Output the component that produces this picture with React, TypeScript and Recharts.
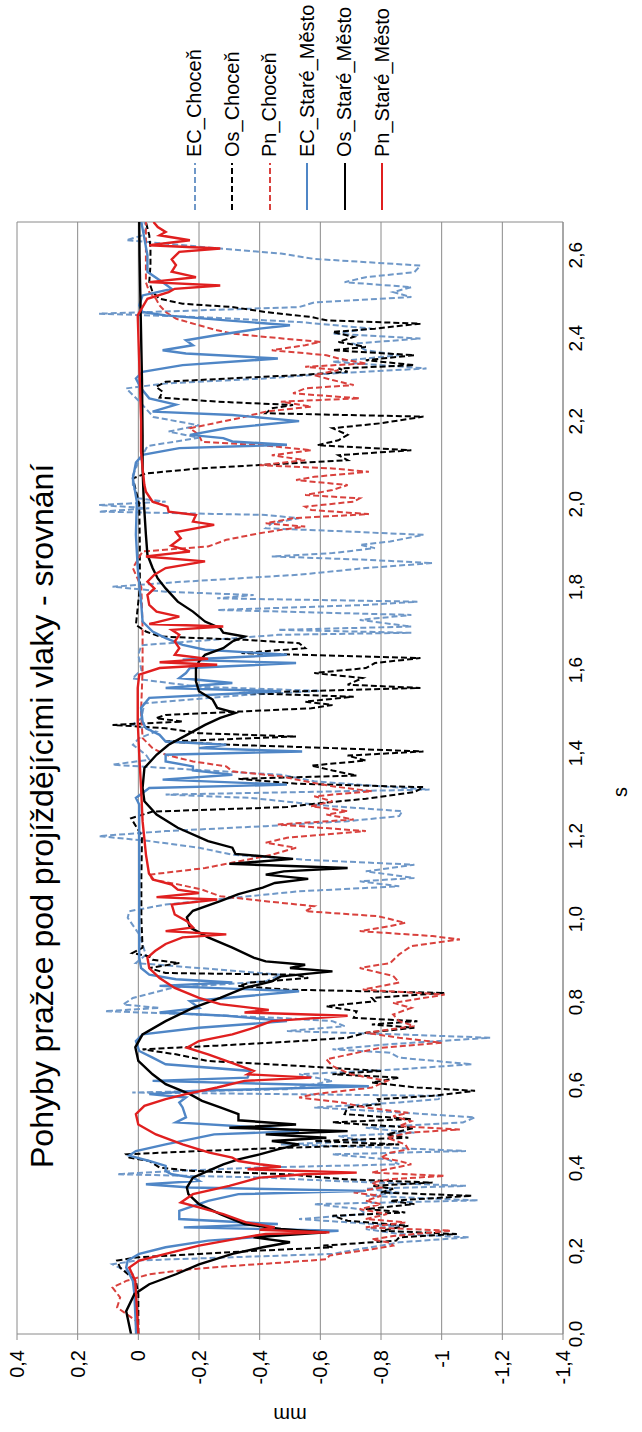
import React from "react"
import {
  LineChart,
  Line,
  XAxis,
  YAxis,
  CartesianGrid,
  Legend,
  ReferenceLine,
  Label,
} from "recharts"

// chart is drawn landscape and turned a quarter turn counter-clockwise
const FRAME_W = 1432
const FRAME_H = 642
const FONT = "'Liberation Sans', Arial, sans-serif"
const GRID = "#8a8a8a"

const title = "Pohyby pražce pod projíždějícími vlaky - srovnání"
const timeTicks = [0, 0.2, 0.4, 0.6, 0.8, 1.0, 1.2, 1.4, 1.6, 1.8, 2.0, 2.2, 2.4, 2.6]
const mmTicks = [0.4, 0.2, 0, -0.2, -0.4, -0.6, -0.8, -1, -1.2, -1.4]
const timeMax = 2.68

// [s, mm]
const ecChocen: [number, number][] = [
  [0, 0.008], [0.1, 0.008], [0.144, 0.018], [0.168, 0.085], [0.177, 0.008], [0.185, -0.31], [0.193, -0.64],
  [0.205, -0.73], [0.213, -0.8], [0.221, -0.86], [0.233, -1.09], [0.241, -0.86], [0.253, -0.75], [0.261, -0.86],
  [0.277, -0.53], [0.289, -0.75], [0.301, -0.73], [0.313, -0.58], [0.322, -1.12], [0.333, -0.75], [0.341, -0.86],
  [0.35, -0.75], [0.357, -1.08], [0.369, -0.64], [0.377, -0.42], [0.385, 0.07], [0.392, -0.09], [0.401, -0.39],
  [0.409, -0.86], [0.421, -0.82], [0.433, -0.64], [0.441, -1.08], [0.449, -0.82], [0.457, -0.47], [0.465, -0.75],
  [0.477, -0.66], [0.485, -0.91], [0.497, -0.75], [0.51, -1.07], [0.522, -1.11], [0.534, -0.86], [0.546, -0.58],
  [0.558, -0.86], [0.566, -0.99], [0.574, -1.0], [0.582, 0.02], [0.59, -0.49], [0.598, -0.55], [0.61, -0.64],
  [0.626, -0.53], [0.638, -0.86], [0.65, -1.1], [0.666, -0.86], [0.678, -0.83], [0.686, -0.64], [0.698, -0.82],
  [0.714, -1.16], [0.722, -0.86], [0.73, -0.49], [0.742, -0.68], [0.754, -0.64], [0.762, -0.46], [0.77, -0.2],
  [0.778, 0.11], [0.786, -0.07], [0.794, 0.05], [0.81, 0.018], [0.834, -0.11], [0.85, -0.42], [0.866, -0.47],
  [0.882, -0.2], [0.894, 0.008], [0.914, -0.025], [0.963, -0.003], [1.003, 0.035], [1.019, 0.03], [1.035, -0.09],
  [1.051, -0.31], [1.067, -0.53], [1.079, -0.86], [1.091, -0.73], [1.099, -0.91], [1.115, -0.75], [1.131, -0.91],
  [1.143, -0.55], [1.155, -0.31], [1.172, -0.2], [1.188, -0.036], [1.2, 0.13], [1.212, -0.09], [1.224, -0.42],
  [1.236, -0.69], [1.248, -0.86], [1.26, -0.87], [1.272, -0.64], [1.28, -0.53], [1.292, -0.37], [1.3, -0.09],
  [1.312, -0.96], [1.32, -0.8], [1.332, -0.58], [1.348, -0.47], [1.36, -0.18], [1.372, 0.085], [1.384, -0.036],
  [1.396, -0.025], [1.42, 0.018], [1.436, -0.003], [1.452, -0.058], [1.468, 0.02], [1.484, -0.01], [1.52, -0.02],
  [1.54, -0.35], [1.55, -0.6], [1.56, -0.2], [1.58, 0.02], [1.6, -0.01], [1.637, 0.0], [1.66, -0.01],
  [1.685, -0.46], [1.69, -0.9], [1.697, -0.46], [1.705, -0.9], [1.721, -0.73], [1.733, -0.9], [1.745, -0.26],
  [1.757, -0.75], [1.765, -0.92], [1.773, -0.26], [1.781, -0.38], [1.789, -0.09], [1.801, 0.085], [1.813, -0.146],
  [1.83, -0.53], [1.846, -0.75], [1.858, -0.97], [1.866, -0.75], [1.874, -0.44], [1.882, -0.64], [1.894, -0.78],
  [1.902, -0.73], [1.91, -0.83], [1.926, -0.94], [1.934, -0.69], [1.942, -0.42], [1.954, -0.44], [1.966, -0.53],
  [1.974, -0.42], [1.982, 0.13], [1.99, -0.036], [1.998, 0.13], [2.006, -0.09], [2.014, 0.0], [2.046, 0.018],
  [2.07, 0.018], [2.1, 0.0], [2.14, -0.03], [2.16, -0.2], [2.175, -0.1], [2.19, -0.2], [2.21, -0.05],
  [2.25, 0.0], [2.279, 0.04], [2.291, -0.09], [2.303, -0.42], [2.315, -0.64], [2.327, -0.95], [2.335, -0.8],
  [2.343, -0.64], [2.359, -0.86], [2.371, -0.75], [2.387, -0.71], [2.399, -0.93], [2.411, -0.64], [2.423, -0.77],
  [2.439, -0.53], [2.451, -0.2], [2.459, 0.13], [2.467, -0.2], [2.475, -0.53], [2.486, -0.58], [2.499, -0.9],
  [2.511, -0.84], [2.523, -0.9], [2.535, -0.68], [2.547, -0.75], [2.559, -0.91], [2.575, -0.93], [2.591, -0.58],
  [2.604, -0.47], [2.616, -0.27], [2.628, -0.09], [2.636, 0.04], [2.648, -0.014], [2.664, -0.025], [2.68, -0.02],
]

const osChocen: [number, number][] = [
  [0, 0.0], [0.096, 0.0], [0.128, 0.008], [0.16, 0.06], [0.177, 0.07], [0.185, 0.0], [0.193, -0.2], [0.2, -0.37],
  [0.209, -0.64], [0.213, -0.61], [0.225, -0.85], [0.233, -0.86], [0.241, -1.05], [0.249, -0.8], [0.261, -0.89],
  [0.273, -0.69], [0.285, -0.64], [0.293, -0.88], [0.301, -0.75], [0.313, -0.91], [0.321, -0.83], [0.333, -1.1],
  [0.341, -0.8], [0.35, -0.84], [0.357, -0.77], [0.365, -0.97], [0.373, -0.68], [0.385, -0.49], [0.393, -0.18],
  [0.401, -0.07], [0.417, -0.036], [0.425, 0.03], [0.433, 0.04], [0.441, -0.2], [0.449, -0.49], [0.457, -0.86],
  [0.465, -0.58], [0.473, -0.89], [0.481, -0.82], [0.497, -0.91], [0.51, -0.64], [0.518, -0.9], [0.53, -0.68],
  [0.546, -0.69], [0.554, -0.8], [0.566, -0.79], [0.574, -0.97], [0.586, -1.11], [0.594, -0.92], [0.606, -0.77],
  [0.618, -0.86], [0.626, -0.64], [0.634, -0.8], [0.646, -0.53], [0.658, -0.23], [0.674, -0.124], [0.686, -0.014],
  [0.695, -0.26], [0.706, -0.53], [0.714, -0.69], [0.726, -0.75], [0.738, -0.91], [0.746, -0.77], [0.754, -0.92],
  [0.762, -0.71], [0.778, -0.72], [0.79, -0.62], [0.802, -0.78], [0.81, -0.77], [0.822, -1.01], [0.83, -0.49],
  [0.839, -0.33], [0.847, -0.37], [0.858, -0.56], [0.866, -0.52], [0.87, -0.09], [0.882, -0.036], [0.894, -0.135],
  [0.902, -0.047], [0.91, -0.036], [0.918, 0.02], [0.931, -0.014], [1.0, -0.01], [1.1, -0.01], [1.2, -0.012],
  [1.243, 0.024], [1.259, -0.047], [1.27, -0.49], [1.278, -0.58], [1.29, -0.75], [1.306, -0.91], [1.318, -0.94],
  [1.326, -0.53], [1.338, -0.33], [1.346, -0.72], [1.358, -0.64], [1.37, -0.57], [1.382, -0.75], [1.394, -0.69],
  [1.404, -0.94], [1.412, -0.64], [1.42, -0.31], [1.428, -0.09], [1.44, -0.52], [1.448, -0.2], [1.46, -0.09],
  [1.468, 0.085], [1.476, -0.146], [1.484, -0.058], [1.492, -0.09], [1.5, -0.33], [1.508, -0.57], [1.516, -0.64],
  [1.524, -0.55], [1.536, -0.71], [1.545, -0.33], [1.557, -0.93], [1.565, -0.69], [1.581, -0.74], [1.593, -0.58],
  [1.605, -0.75], [1.617, -0.78], [1.629, -0.93], [1.641, -0.34], [1.653, -0.55], [1.665, -0.53], [1.673, -0.35],
  [1.681, -0.07], [1.693, -0.025], [1.709, 0.008], [1.8, -0.005], [1.9, -0.005], [2.0, -0.003], [2.062, 0.018],
  [2.074, -0.025], [2.086, -0.2], [2.094, -0.39], [2.106, -0.69], [2.118, -0.66], [2.13, -0.9], [2.142, -0.59],
  [2.154, -0.66], [2.167, -0.69], [2.183, -0.64], [2.195, -0.8], [2.211, -0.94], [2.219, -0.42], [2.231, -0.44],
  [2.239, -0.51], [2.247, -0.26], [2.257, -0.07], [2.271, -0.08], [2.283, -0.058], [2.295, -0.09], [2.303, -0.3],
  [2.311, -0.53], [2.319, -0.69], [2.327, -0.66], [2.335, -0.91], [2.347, -0.75], [2.359, -0.91], [2.371, -0.64],
  [2.379, -0.75], [2.391, -0.66], [2.403, -0.71], [2.415, -0.64], [2.423, -0.78], [2.435, -0.93], [2.443, -0.62],
  [2.451, -0.57], [2.463, -0.42], [2.475, -0.31], [2.483, -0.146], [2.495, -0.07], [2.511, -0.047], [2.535, -0.036],
  [2.576, -0.04], [2.616, -0.04], [2.648, -0.036], [2.68, -0.025],
]

const pnChocen: [number, number][] = [
  [0, 0.0], [0.032, 0.008], [0.064, 0.07], [0.088, 0.06], [0.112, 0.085], [0.128, 0.04], [0.144, -0.036],
  [0.156, -0.17], [0.164, -0.31], [0.172, -0.47], [0.18, -0.62], [0.189, -0.63], [0.196, -0.69], [0.204, -0.77],
  [0.213, -0.84], [0.22, -0.83], [0.228, -0.77], [0.236, -0.84], [0.249, -1.03], [0.257, -0.75], [0.269, -0.88],
  [0.277, -0.75], [0.289, -0.82], [0.301, -0.73], [0.313, -0.8], [0.321, -0.75], [0.333, -0.8], [0.341, -0.71],
  [0.353, -0.8], [0.365, -0.77], [0.373, -0.83], [0.381, -1.01], [0.389, -0.77], [0.397, -0.82], [0.409, -0.9],
  [0.417, -0.86], [0.425, -0.8], [0.437, -0.83], [0.445, -0.89], [0.457, -0.88], [0.465, -0.85], [0.473, -0.82],
  [0.485, -0.89], [0.493, -1.06], [0.501, -0.86], [0.513, -0.9], [0.525, -0.84], [0.533, -0.89], [0.546, -0.75],
  [0.558, -0.67], [0.57, -0.53], [0.578, -0.58], [0.594, -0.77], [0.61, -0.82], [0.626, -0.7], [0.646, -0.64],
  [0.662, -0.62], [0.69, -0.8], [0.702, -1.0], [0.714, -0.86], [0.726, -0.75], [0.742, -0.91], [0.754, -0.86],
  [0.77, -0.84], [0.786, -0.9], [0.798, -0.84], [0.818, -1.01], [0.83, -0.74], [0.847, -0.86], [0.863, -0.84],
  [0.882, -0.73], [0.894, -0.83], [0.915, -0.86], [0.935, -0.9], [0.951, -1.06], [0.959, -0.97], [0.971, -0.73],
  [0.983, -0.83], [0.991, -0.88], [1.007, -0.79], [1.019, -0.55], [1.031, -0.58], [1.043, -0.42], [1.055, -0.27],
  [1.071, -0.21], [1.083, -0.135], [1.095, -0.047], [1.107, -0.036], [1.123, -0.22], [1.139, -0.33], [1.155, -0.44],
  [1.172, -0.52], [1.184, -0.42], [1.196, -0.49], [1.212, -0.75], [1.228, -0.46], [1.24, -0.71], [1.252, -0.62],
  [1.26, -0.69], [1.272, -0.57], [1.284, -0.64], [1.296, -0.58], [1.308, -0.77], [1.32, -0.64], [1.332, -0.55],
  [1.344, -0.47], [1.356, -0.31], [1.368, -0.29], [1.38, -0.18], [1.396, -0.09], [1.412, -0.047], [1.436, -0.014],
  [1.5, -0.009], [1.6, -0.014], [1.7, -0.014], [1.8, -0.01], [1.846, 0.018], [1.886, -0.014], [1.898, -0.23],
  [1.914, -0.29], [1.93, -0.4], [1.938, -0.47], [1.946, -0.55], [1.954, -0.42], [1.966, -0.51], [1.976, -0.76],
  [1.986, -0.57], [1.994, -0.55], [2.006, -0.71], [2.014, -0.73], [2.022, -0.55], [2.034, -0.64], [2.046, -0.69],
  [2.058, -0.52], [2.066, -0.58], [2.078, -0.76], [2.086, -0.64], [2.094, -0.4], [2.106, -0.55], [2.118, -0.44],
  [2.13, -0.57], [2.142, -0.41], [2.15, -0.21], [2.167, -0.2], [2.183, -0.17], [2.207, -0.33], [2.223, -0.42],
  [2.235, -0.57], [2.247, -0.47], [2.255, -0.73], [2.267, -0.51], [2.279, -0.55], [2.287, -0.71], [2.299, -0.64],
  [2.311, -0.58], [2.323, -0.66], [2.331, -0.55], [2.339, -0.75], [2.351, -0.66], [2.359, -0.62], [2.371, -0.44],
  [2.383, -0.55], [2.391, -0.6], [2.403, -0.42], [2.411, -0.31], [2.419, -0.26], [2.431, -0.2], [2.447, -0.124],
  [2.463, -0.09], [2.479, -0.07], [2.495, -0.058], [2.511, -0.036], [2.535, -0.025], [2.6, -0.025], [2.68, -0.025],
]

const ecStare: [number, number][] = [
  [0, 0.007], [0.096, 0.013], [0.128, 0.018], [0.16, 0.04], [0.177, 0.035], [0.193, -0.003], [0.209, -0.09],
  [0.225, -0.23], [0.233, -0.38], [0.245, -0.57], [0.249, -0.66], [0.257, -0.15], [0.265, -0.46], [0.277, -0.135],
  [0.297, -0.135], [0.321, -0.23], [0.337, -0.33], [0.345, -0.75], [0.353, -0.17], [0.361, -0.025], [0.369, -0.2],
  [0.377, -0.18], [0.385, -0.11], [0.393, -0.09], [0.405, -0.09], [0.417, -0.036], [0.43, 0.03], [0.441, 0.008],
  [0.457, -0.09], [0.481, -0.25], [0.489, -0.53], [0.497, -0.42], [0.51, -0.124], [0.522, -0.157], [0.546, -0.146],
  [0.558, -0.135], [0.57, -0.157], [0.578, -0.036], [0.586, -0.18], [0.597, -0.76], [0.61, -0.047], [0.618, -0.36],
  [0.634, -0.37], [0.65, -0.09], [0.666, -0.047], [0.682, -0.003], [0.706, 0.008], [0.722, -0.014], [0.738, -0.2],
  [0.754, -0.49], [0.767, -0.29], [0.775, -0.07], [0.786, -0.2], [0.802, -0.17], [0.826, -0.53], [0.839, -0.07],
  [0.847, -0.31], [0.855, -0.124], [0.866, -0.036], [0.882, -0.009], [0.907, -0.003], [1.0, -0.003], [1.1, -0.003],
  [1.2, -0.003], [1.276, -0.003], [1.292, 0.008], [1.316, -0.036], [1.324, -0.49], [1.336, -0.08], [1.348, -0.31],
  [1.358, -0.18], [1.368, -0.18], [1.38, -0.09], [1.396, -0.09], [1.404, -0.54], [1.412, -0.2], [1.42, -0.29],
  [1.428, -0.09], [1.444, -0.07], [1.46, -0.025], [1.476, -0.014], [1.509, -0.009], [1.533, -0.036], [1.549, -0.47],
  [1.557, -0.09], [1.569, -0.31], [1.581, -0.135], [1.593, -0.157], [1.605, -0.17], [1.617, -0.52], [1.625, -0.146],
  [1.637, -0.49], [1.649, -0.22], [1.661, -0.146], [1.677, -0.09], [1.693, -0.047], [1.717, -0.014], [1.765, -0.009],
  [1.846, 0.002], [1.926, 0.008], [2.006, 0.005], [2.062, 0.018], [2.1, 0.008], [2.119, -0.014], [2.135, -0.135],
  [2.143, -0.49], [2.151, -0.31], [2.159, -0.28], [2.167, -0.17], [2.183, -0.29], [2.2, -0.53], [2.215, -0.31],
  [2.223, -0.047], [2.24, -0.124], [2.255, -0.036], [2.279, -0.009], [2.303, 0.008], [2.319, -0.014], [2.335, -0.146],
  [2.351, -0.46], [2.363, -0.157], [2.371, -0.08], [2.383, -0.18], [2.395, -0.157], [2.407, -0.256], [2.423, -0.4],
  [2.431, -0.5], [2.443, -0.29], [2.455, -0.09], [2.463, -0.014], [2.479, -0.003], [2.503, -0.014], [2.519, -0.11],
  [2.535, -0.08], [2.56, -0.03], [2.6, -0.03], [2.64, -0.02], [2.68, -0.01],
]

const osStare: [number, number][] = [
  [0, 0.024], [0.055, 0.04], [0.096, 0.013], [0.12, -0.036], [0.144, -0.124], [0.168, -0.2], [0.193, -0.31],
  [0.209, -0.41], [0.221, -0.5], [0.233, -0.38], [0.245, -0.62], [0.253, -0.47], [0.265, -0.35], [0.289, -0.27],
  [0.313, -0.2], [0.337, -0.165], [0.353, -0.16], [0.377, -0.18], [0.393, -0.23], [0.409, -0.28], [0.421, -0.33],
  [0.433, -0.4], [0.445, -0.46], [0.457, -0.53], [0.465, -0.44], [0.473, -0.62], [0.481, -0.42], [0.489, -0.69],
  [0.497, -0.3], [0.505, -0.52], [0.515, -0.33], [0.53, -0.33], [0.546, -0.27], [0.562, -0.21], [0.578, -0.17],
  [0.602, -0.09], [0.626, -0.047], [0.658, 0], [0.691, 0.01], [0.722, -0.014], [0.754, -0.09], [0.786, -0.18],
  [0.81, -0.27], [0.834, -0.35], [0.85, -0.44], [0.862, -0.47], [0.874, -0.64], [0.882, -0.5], [0.89, -0.55],
  [0.898, -0.42], [0.907, -0.38], [0.931, -0.31], [0.956, -0.23], [0.98, -0.17], [1.004, -0.16], [1.02, -0.18],
  [1.043, -0.27], [1.06, -0.33], [1.076, -0.41], [1.087, -0.45], [1.097, -0.56], [1.107, -0.42], [1.115, -0.48],
  [1.123, -0.69], [1.133, -0.3], [1.145, -0.51], [1.157, -0.32], [1.172, -0.31], [1.188, -0.23], [1.22, -0.13],
  [1.252, -0.06], [1.284, -0.02], [1.316, -0.014], [1.364, -0.02], [1.396, -0.06], [1.42, -0.1], [1.444, -0.16],
  [1.468, -0.22], [1.485, -0.27], [1.497, -0.32], [1.509, -0.26], [1.529, -0.245], [1.549, -0.2], [1.573, -0.19],
  [1.605, -0.19], [1.621, -0.2], [1.637, -0.22], [1.653, -0.28], [1.669, -0.31], [1.681, -0.35], [1.69, -0.28],
  [1.701, -0.27], [1.717, -0.22], [1.741, -0.18], [1.765, -0.13], [1.797, -0.09], [1.821, -0.064], [1.846, -0.047],
  [1.878, -0.03], [1.926, -0.025], [2.006, -0.018], [2.086, -0.014], [2.167, -0.014], [2.3, -0.012], [2.45, -0.008],
  [2.6, -0.004], [2.68, -0.003],
]

const pnStare: [number, number][] = [
  [0, 0.0], [0.064, 0.005], [0.128, 0.01], [0.16, 0.03], [0.177, -0.003], [0.193, -0.09], [0.213, -0.2],
  [0.233, -0.35], [0.241, -0.42], [0.245, -0.63], [0.251, -0.4], [0.257, -0.45], [0.269, -0.355], [0.289, -0.28],
  [0.305, -0.2], [0.317, -0.14], [0.337, -0.18], [0.357, -0.3], [0.377, -0.4], [0.385, -0.55], [0.389, -0.72],
  [0.397, -0.36], [0.403, -0.47], [0.409, -0.4], [0.417, -0.33], [0.425, -0.31], [0.437, -0.234], [0.457, -0.146],
  [0.481, -0.058], [0.505, 0.0], [0.53, 0.008], [0.55, -0.02], [0.566, -0.09], [0.578, -0.157], [0.594, -0.26],
  [0.61, -0.35], [0.618, -0.57], [0.626, -0.36], [0.634, -0.38], [0.658, -0.29], [0.674, -0.23], [0.69, -0.16],
  [0.706, -0.2], [0.722, -0.31], [0.738, -0.38], [0.754, -0.44], [0.767, -0.69], [0.775, -0.35], [0.781, -0.43],
  [0.795, -0.27], [0.81, -0.2], [0.834, -0.12], [0.858, -0.07], [0.882, -0.036], [0.907, -0.03], [0.923, -0.055],
  [0.94, -0.09], [0.956, -0.146], [0.963, -0.29], [0.971, -0.09], [0.98, -0.18], [0.995, -0.16], [1.011, -0.12],
  [1.035, -0.11], [1.047, -0.26], [1.053, -0.06], [1.063, -0.2], [1.071, -0.13], [1.083, -0.11], [1.095, -0.05],
  [1.11, -0.035], [1.156, -0.025], [1.236, -0.014], [1.316, -0.009], [1.396, -0.003], [1.476, 0.002], [1.557, 0.002],
  [1.589, -0.003], [1.605, -0.07], [1.613, -0.26], [1.619, -0.07], [1.627, -0.23], [1.637, -0.12], [1.653, -0.135],
  [1.669, -0.12], [1.685, -0.135], [1.697, -0.11], [1.705, -0.28], [1.711, -0.036], [1.729, -0.135], [1.741, -0.06],
  [1.757, -0.036], [1.781, -0.03], [1.797, -0.053], [1.813, -0.03], [1.83, -0.053], [1.846, -0.09], [1.862, -0.22],
  [1.874, -0.025], [1.886, -0.17], [1.9, -0.108], [1.918, -0.14], [1.933, -0.124], [1.95, -0.25], [1.958, -0.18],
  [1.974, -0.19], [1.982, -0.1], [1.994, -0.096], [2.006, -0.047], [2.03, -0.025], [2.046, -0.02], [2.086, -0.014],
  [2.127, -0.009], [2.2, -0.009], [2.295, -0.005], [2.455, 0.002], [2.495, -0.03], [2.511, -0.1], [2.519, -0.12],
  [2.527, -0.27], [2.535, -0.036], [2.547, -0.19], [2.56, -0.11], [2.576, -0.124], [2.59, -0.11], [2.608, -0.135],
  [2.616, -0.27], [2.624, -0.036], [2.636, -0.17], [2.648, -0.07], [2.656, -0.09], [2.668, -0.064], [2.68, -0.05],
]

const toRows = (pts: [number, number][]) => pts.map(([t, v]) => ({ t, v }))

const series = [
  { name: "EC_Choceň", points: ecChocen, color: "#6f98c8", dash: "6 3", width: 2 },
  { name: "Os_Choceň", points: osChocen, color: "#000000", dash: "6 3", width: 2 },
  { name: "Pn_Choceň", points: pnChocen, color: "#d9413d", dash: "6 3", width: 2 },
  { name: "EC_Staré_Město", points: ecStare, color: "#4f86c6", dash: undefined, width: 2.4 },
  { name: "Os_Staré_Město", points: osStare, color: "#000000", dash: undefined, width: 2.4 },
  { name: "Pn_Staré_Město", points: pnStare, color: "#e01f1f", dash: undefined, width: 2.4 },
]

const czNum = (v: number, digits?: number) =>
  (digits === undefined ? String(Math.round(v * 10) / 10) : v.toFixed(digits)).replace(".", ",")

function LegendList() {
  return (
    <div style={{ width: 214, fontFamily: FONT }}>
      {series.map((s) => (
        <div key={s.name} style={{ display: "flex", alignItems: "center", height: 37.5 }}>
          <svg width={54} height={10}>
            <line x1={4} y1={5} x2={51} y2={5} stroke={s.color} strokeWidth={2} strokeDasharray={s.dash} />
          </svg>
          <span style={{ marginLeft: 3, fontSize: 20, color: "#000", whiteSpace: "nowrap" }}>{s.name}</span>
        </div>
      ))}
    </div>
  )
}

export default function App() {
  return (
    <>
      <style>{"body{margin:0;overflow:hidden;background:#fff}"}</style>
      <div
        style={{
          position: "absolute",
          left: 0,
          top: 0,
          width: FRAME_W,
          height: FRAME_H,
          transformOrigin: "0 0",
          transform: `translateY(${FRAME_W}px) rotate(-90deg)`,
          background: "#fff",
        }}
      >
        <LineChart width={FRAME_W} height={FRAME_H} margin={{ top: 17, right: 222, bottom: 0, left: 0 }}>
          <CartesianGrid stroke={GRID} vertical={false} />
          <XAxis
            type="number"
            dataKey="t"
            domain={[0, timeMax]}
            ticks={timeTicks}
            allowDataOverflow
            height={79}
            stroke={GRID}
            tickSize={0}
            tickMargin={6}
            tick={{ fontSize: 19, fill: "#000", fontFamily: FONT }}
            tickFormatter={(v: number) => czNum(v, 1)}
          >
            <Label
              value="s"
              position="center"
              dx={-14}
              dy={17}
              style={{ fontSize: 20, fill: "#000", fontFamily: FONT }}
            />
          </XAxis>
          <YAxis
            type="number"
            domain={[-1.4, 0.4]}
            ticks={mmTicks}
            width={98}
            stroke={GRID}
            tickSize={6}
            tickMargin={10}
            tick={{ fontSize: 20, fill: "#000", fontFamily: FONT }}
            tickFormatter={(v: number) => czNum(v)}
          >
            <Label
              value="mm"
              angle={-90}
              position="center"
              dx={-32}
              style={{ fontSize: 20, fill: "#000", fontFamily: FONT }}
            />
          </YAxis>
          <ReferenceLine x={timeMax} stroke={GRID} />
          <Legend
            layout="horizontal"
            align="center"
            verticalAlign="middle"
            wrapperStyle={{ left: 1218, top: 176, width: 214 }}
            content={() => <LegendList />}
          />
          {series.map((s) => (
            <Line
              key={s.name}
              name={s.name}
              data={toRows(s.points)}
              dataKey="v"
              type="linear"
              stroke={s.color}
              strokeWidth={s.width}
              strokeDasharray={s.dash}
              dot={false}
              activeDot={false}
              isAnimationActive={false}
            />
          ))}
        </LineChart>
        <svg
          width={FRAME_W}
          height={FRAME_H}
          style={{ position: "absolute", left: 0, top: 0, pointerEvents: "none" }}
        >
          <text x={264} y={53} fontSize={32} fontFamily={FONT} fill="#000">
            {title}
          </text>
        </svg>
      </div>
    </>
  )
}
